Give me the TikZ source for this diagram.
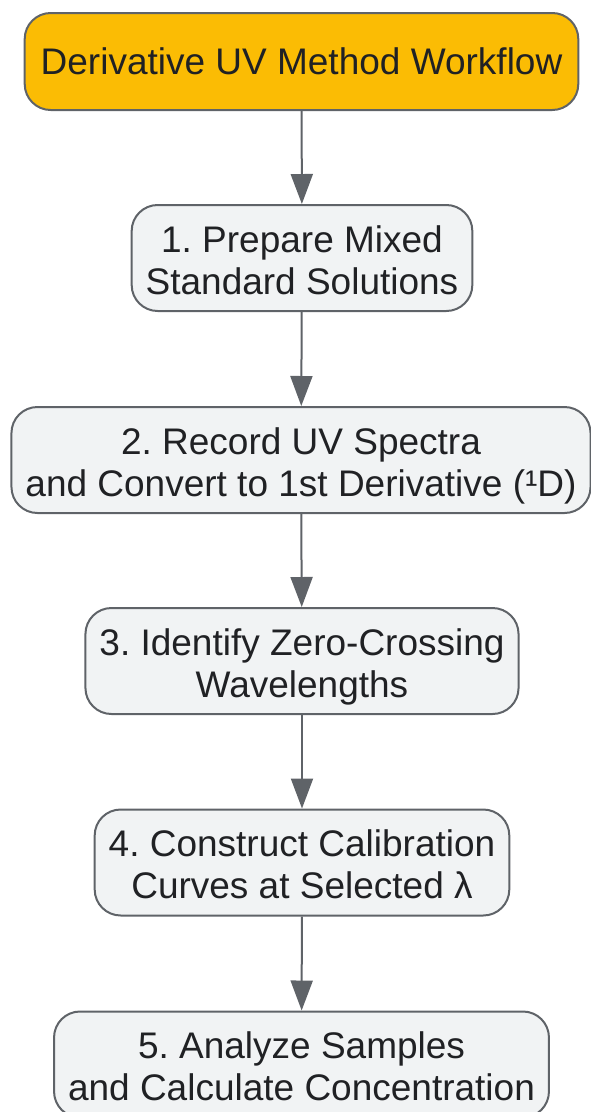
\documentclass[tikz,border=0pt]{standalone}
\usepackage{fontspec}
\setmainfont{Liberation Sans}
\usepackage{tikz}
\usetikzlibrary{arrows.meta,positioning,shapes}
\definecolor{headfill}{HTML}{FBBC04}
\definecolor{stepfill}{HTML}{F1F3F4}
\definecolor{edgegray}{HTML}{5F6368}
\definecolor{textgray}{HTML}{202124}
\frenchspacing
\tikzset{every picture/.style={line width=2pt}}
\tikzstyle{stepbox}=[draw=edgegray,fill=stepfill,rounded corners=26pt,align=center,inner xsep=14pt,inner ysep=0pt,minimum height=106pt,text=textgray,font=\fontsize{37}{42}\selectfont,text height=72pt,text depth=0pt]
\tikzstyle{headbox}=[stepbox,fill=headfill,minimum height=97pt,inner xsep=16pt,text height=,text depth=]

\begin{document}
\begin{tikzpicture}[x=1pt,y=1pt]
\useasboundingbox (0,0) rectangle (591,-1112);
\node[headbox] (T) at (301.5,-61.5) {Derivative UV Method Workflow};
\node[stepbox] (S1) at (302,-258) {1. Prepare Mixed\\Standard Solutions};
\node[stepbox] (S2) at (301,-460) {2. Record UV Spectra\\and Convert to 1st Derivative (¹D)};
\node[stepbox] (S3) at (302,-661) {3. Identify Zero-Crossing\\Wavelengths};
\node[stepbox] (S4) at (302,-862.5) {4. Construct Calibration\\Curves at Selected λ};
\node[stepbox] (S5) at (301.5,-1064.5) {5. Analyze Samples\\and Calculate Concentration};
\path[color=edgegray,line width=2pt,-{Triangle[length=30pt,width=22pt]}]
(T) edge (S1)
(S1) edge (S2)
(S2) edge (S3)
(S3) edge (S4)
(S4) edge (S5);
\end{tikzpicture}
\end{document}
